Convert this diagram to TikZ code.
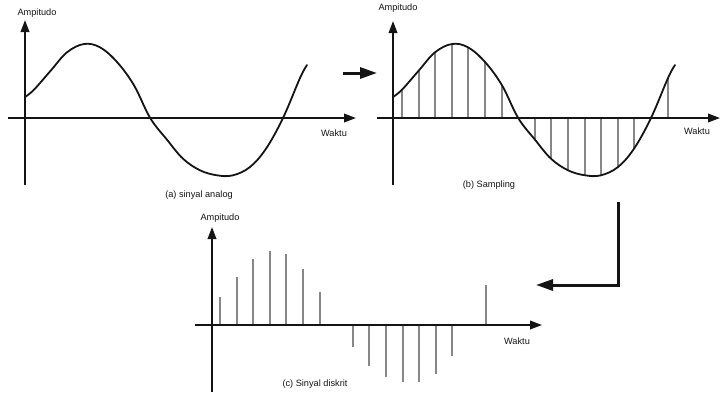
\documentclass[tikz,border=0pt]{standalone}
\usepackage{fontspec}
\setmainfont{Liberation Sans}
\usetikzlibrary{arrows.meta}
\definecolor{stemgray}{RGB}{135,135,135}
\definecolor{ink}{RGB}{20,20,20}
\begin{document}
\begin{tikzpicture}[x=1pt,y=-1pt,
  axis/.style={draw=ink,line width=2pt,-{Triangle[length=12pt,width=8.5pt]}},
  wave/.style={draw=ink,line width=1.8pt,line join=round,line cap=round},
  stem/.style={line width=2pt,draw=stemgray},
  bigarrow/.style={draw=ink,line width=3pt,-{Triangle[length=17pt,width=11pt]}},
  lbl/.style={font=\fontsize{9.2}{11}\selectfont,inner sep=0pt,text=ink}]
\useasboundingbox (0,0) rectangle (720,394);

% ---------- panel (a) ----------
\begin{scope}[shift={(25,118)}]
  \draw[wave] plot[smooth,tension=0.6] coordinates {(0,-21) (9,-28.3) (26,-47.7) (42,-65.7) (59,-74) (75,-70.7) (92,-56) (109,-32.7) (125.2,0) (142,21.7) (158,40.7) (175,52.3) (192,57.3) (208,57.3) (225,49) (241,30.7) (258,0) (275,-40) (282,-53)};
\end{scope}
\coordinate (aB) at (25,185);
\coordinate (aT) at (25,20);
\coordinate (aL) at (8,118);
\coordinate (aR) at (356,118);
\draw[axis] (aB) -- (aT);
\draw[axis] (aL) -- (aR);
\node[lbl] (aAmp) at (37,13) {Ampitudo};
\node[lbl] (aWak) at (334,133) {Waktu};
\node[lbl] (aCap) at (199,195) {(a) sinyal analog};

% ---------- panel (b) ----------
\begin{scope}[shift={(393,118)}]
  \foreach \x/\h in {9/28.3,26/47.7,42/65.7,59/74,75/70.7,92/56,109/32.7,142/-21.7,158/-40.7,175/-52.3,192/-57.3,208/-57.3,225/-49,241/-30.7,275/40}
    \draw[stem] (\x,0) -- (\x,-\h);
  \draw[wave] plot[smooth,tension=0.6] coordinates {(0,-21) (9,-28.3) (26,-47.7) (42,-65.7) (59,-74) (75,-70.7) (92,-56) (109,-32.7) (125.2,0) (142,21.7) (158,40.7) (175,52.3) (192,57.3) (208,57.3) (225,49) (241,30.7) (258,0) (275,-40) (282,-53)};
\end{scope}
\coordinate (bB) at (393,185);
\coordinate (bT) at (393,21);
\coordinate (bL) at (377,118);
\coordinate (bR) at (720,118);
\draw[axis] (bB) -- (bT);
\draw[axis] (bL) -- (bR);
\node[lbl] (bAmp) at (398,8) {Ampitudo};
\node[lbl] (bWak) at (697,131) {Waktu};
\node[lbl] (bCap) at (489,185) {(b) Sampling};

% ---------- panel (c) ----------
\begin{scope}[shift={(211,325)}]
  \foreach \x/\h in {9/28.3,26/47.7,42/65.7,59/74,75/70.7,92/56,109/32.7,142/-21.7,158/-40.7,175/-52.3,192/-57.3,208/-57.3,225/-49,241/-30.7,275/40}
    \draw[stem] (\x,0) -- (\x,-\h);
\end{scope}
\coordinate (cB) at (212,392);
\coordinate (cT) at (212,227);
\coordinate (cL) at (195,325);
\coordinate (cR) at (542,325);
\draw[axis] (cB) -- (cT);
\draw[axis] (cL) -- (cR);
\node[lbl] (cAmp) at (220,218) {Ampitudo};
\node[lbl] (cWak) at (517,341) {Waktu};
\node[lbl] (cCap) at (315,384) {(c) Sinyal diskrit};

% ---------- transition arrows ----------
\coordinate (ab1) at (343,73);
\coordinate (ab2) at (377,73);
\draw[bigarrow] (ab1) -- (ab2);
\coordinate (bc1) at (618,202);
\coordinate (bc2) at (536,285);
\draw[bigarrow] (bc1) |- (bc2);
\end{tikzpicture}
\end{document}
